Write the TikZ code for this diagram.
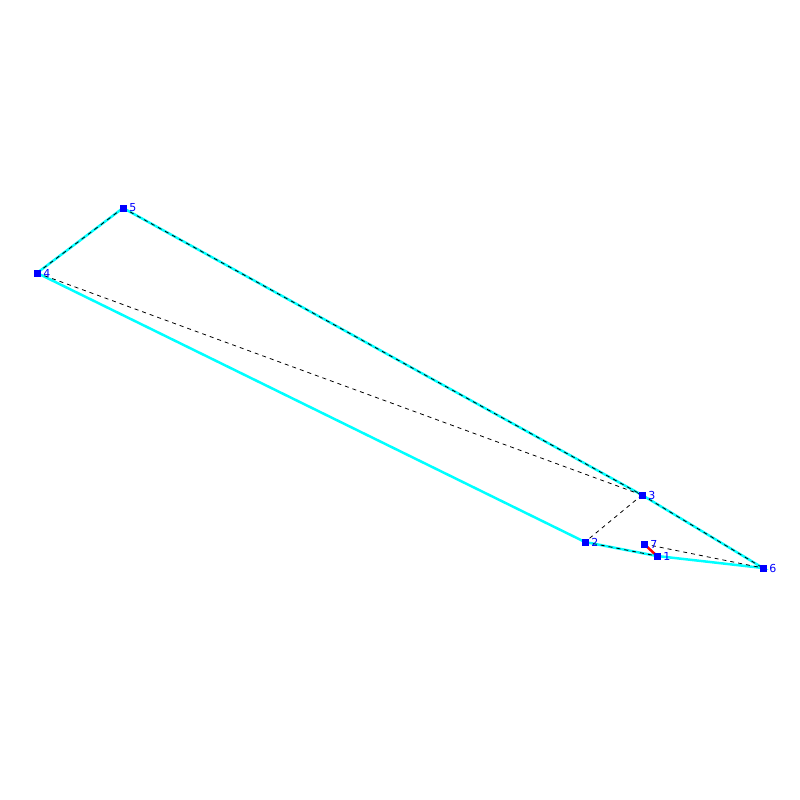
\documentclass[tikz,border=0pt]{standalone}
\usepackage{fontspec}
\setmainfont{DejaVu Sans}
\definecolor{aqua}{RGB}{0,255,255}
\begin{document}
\begin{tikzpicture}[x=1pt, y=-1pt,
    pt/.style={fill=blue, inner sep=0pt, minimum size=7pt},
    lbl/.style={text=blue, font=\fontsize{11}{11}\selectfont, inner sep=1pt, anchor=west},
    edge/.style={aqua, line width=2.5pt},
    diag/.style={black, line width=0.8pt, dash pattern=on 4pt off 4pt}]
                \useasboundingbox (0,0) rectangle (800,800);
                \node[pt] (p1) at (657,556) {};
                \node[pt] (p2) at (585,542) {};
                \node[pt] (p3) at (642,495) {};
                \node[pt] (p4) at (37,273) {};
                \node[pt] (p5) at (123,208) {};
                \node[pt] (p6) at (763,568) {};
                \node[pt] (p7) at (644,544) {};
                \draw[edge] (p4.center) -- (p5.center) -- (p3.center) -- (p6.center) -- (p1.center) -- (p2.center) -- (p4.center);
                \draw[diag] (p4.center) -- (p5.center);
                \draw[diag] (p5.center) -- (p3.center);
                \draw[diag] (p4.center) -- (p3.center);
                \draw[diag] (p3.center) -- (p2.center);
                \draw[diag] (p3.center) -- (p6.center);
                \draw[diag] (p2.center) -- (p1.center);
                \draw[diag] (p7.center) -- (p6.center);
                \draw[red, line width=2.5pt] (p7.center) -- (p1.center);
                \foreach \n in {1,...,7} {
                    \node[pt] at (p\n) {};
                    \node[lbl] at ([xshift=1.5pt]p\n.east) {\n};
                }
            \end{tikzpicture}
\end{document}
